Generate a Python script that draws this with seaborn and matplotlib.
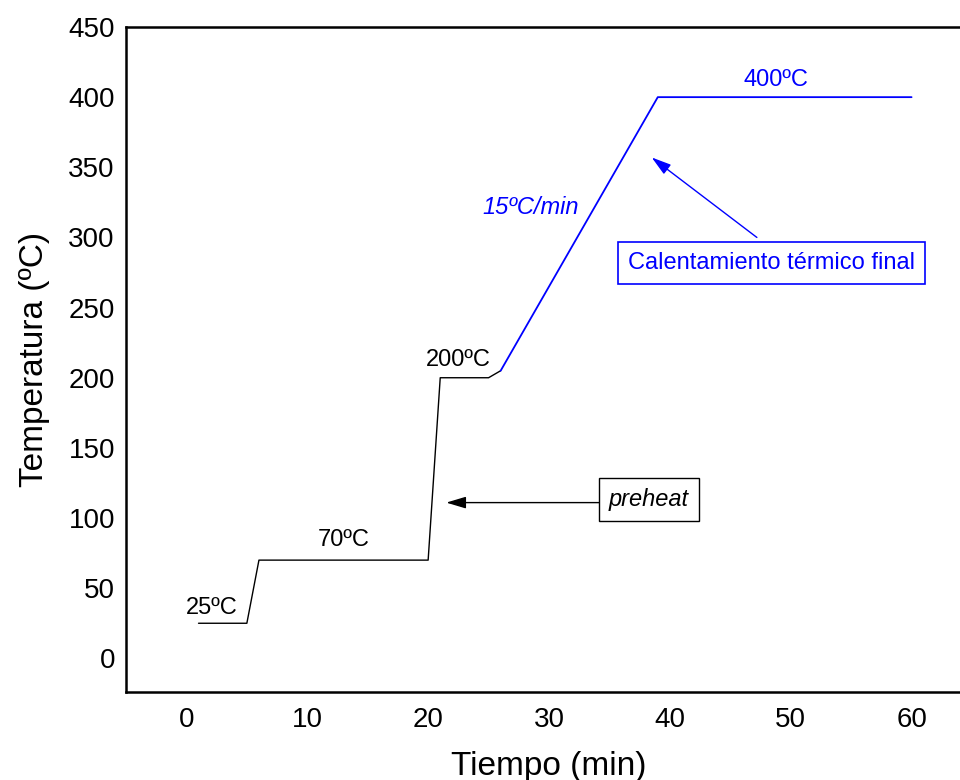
import matplotlib
matplotlib.use("Agg")
import matplotlib.pyplot as plt
import seaborn as sns

# preheat stages (black) and final ramp (blue)
time_preheat = [1, 5, 6, 20, 21, 25, 26]
temp_preheat = [25, 25, 70, 70, 200, 200, 205]
time_final = [26, 39, 60]
temp_final = [205, 400, 400]

x_ticks = [0, 10, 20, 30, 40, 50, 60]
y_ticks = [0, 50, 100, 150, 200, 250, 300, 350, 400, 450]

sns.set_style("white")
plt.rcParams["font.family"] = ["Liberation Sans", "DejaVu Sans"]
plt.rcParams["text.color"] = "black"
plt.rcParams["axes.labelcolor"] = "black"
plt.rcParams["xtick.color"] = "black"
plt.rcParams["ytick.color"] = "black"

fig = plt.figure(figsize=(9.6, 7.8), dpi=100)
ax = fig.add_axes([126 / 960, 88 / 780, 846 / 960, 665 / 780])

sns.lineplot(x=time_preheat, y=temp_preheat, sort=False, estimator=None,
             color="black", lw=1.0, ax=ax)
sns.lineplot(x=time_final, y=temp_final, sort=False, estimator=None,
             color="#0000ff", lw=1.3, ax=ax)

ax.set_xlim(-5, 65)
ax.set_ylim(-24, 450)
ax.set_xticks(x_ticks)
ax.set_xticks([5, 15, 25, 35, 45, 55], minor=True)
ax.set_yticks(y_ticks)
ax.tick_params(axis="x", which="both", direction="in", length=3, width=1,
               labelsize=20, pad=11, colors="black")
ax.tick_params(axis="y", direction="in", length=0, labelsize=20, pad=8,
               colors="black")

for side in ["left", "bottom", "top"]:
    ax.spines[side].set_color("black")
    ax.spines[side].set_linewidth(1.8)
ax.spines["right"].set_visible(False)

ax.set_xlabel("Tiempo (min)", fontsize=24, labelpad=13, color="black")
ax.set_ylabel("Temperatura (ºC)", fontsize=24, labelpad=13, color="black")

# step labels
ax.text(2.1, 36, "25ºC", fontsize=17, ha="center", va="center")
ax.text(13.0, 84.5, "70ºC", fontsize=17, ha="center", va="center")
ax.text(22.5, 213, "200ºC", fontsize=17, ha="center", va="center")
ax.text(48.8, 412, "400ºC", fontsize=17, ha="center", va="center", color="#0000ff")
ax.text(28.5, 321, "15ºC/min", fontsize=17, ha="center", va="center",
        color="#0000ff", style="italic")

# preheat callout
ax.annotate("", xy=(21.5, 111), xytext=(34.2, 111),
            arrowprops=dict(arrowstyle="-|>,head_length=0.6,head_width=0.18",
                            color="black", lw=1.0, mutation_scale=20,
                            shrinkA=0, shrinkB=0))
ax.text(38.25, 113.5, "preheat", fontsize=17, ha="center", va="center",
        style="italic",
        bbox=dict(boxstyle="square,pad=0.42", fc="white", ec="black", lw=1.0))

# final heating callout
ax.annotate("", xy=(38.5, 357), xytext=(47.2, 300),
            arrowprops=dict(arrowstyle="-|>,head_length=0.6,head_width=0.18",
                            color="#0000ff", lw=1.0, mutation_scale=20,
                            shrinkA=0, shrinkB=0))
ax.text(48.4, 282, "Calentamiento térmico final", fontsize=17, ha="center",
        va="center", color="#0000ff",
        bbox=dict(boxstyle="square,pad=0.42", fc="white", ec="#0000ff", lw=1.2))

fig.savefig("out.png", dpi=100)
plt.close(fig)
